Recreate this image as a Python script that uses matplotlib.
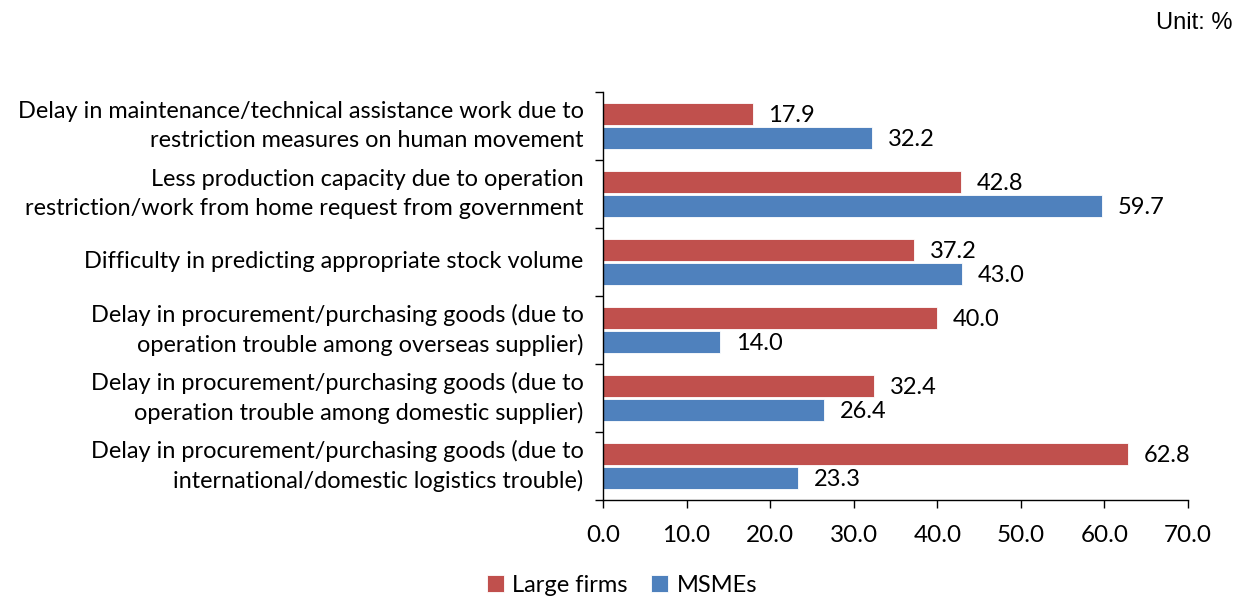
import matplotlib.pyplot as plt
import numpy as np

# survey categories, listed top to bottom
categories = [
    'Delay in maintenance/technical assistance work due to\nrestriction measures on human movement',
    'Less production capacity due to operation\nrestriction/work from home request from government',
    'Difficulty in predicting appropriate stock volume',
    'Delay in procurement/purchasing goods (due to\noperation trouble among overseas supplier)',
    'Delay in procurement/purchasing goods (due to\noperation trouble among domestic supplier)',
    'Delay in procurement/purchasing goods (due to\ninternational/domestic logistics trouble)',
]
large_firms = [17.9, 42.8, 37.2, 40.0, 32.4, 62.8]
msmes = [32.2, 59.7, 43.0, 14.0, 26.4, 23.3]
x_ticks = [0, 10, 20, 30, 40, 50, 60, 70]

red = '#C0504D'
blue = '#4F81BD'
fs = 17

plt.rcParams['font.family'] = ['Lato', 'DejaVu Sans']

fig = plt.figure(figsize=(12.44, 5.99), dpi=100)
ax = fig.add_axes([603/1244, 1 - 500/599, (1188-603)/1244, (500-92)/599])

n = len(categories)
y = np.arange(n)[::-1]  # first category at the top
h = 0.335

b1 = ax.barh(y + h/2 + 0.01, large_firms, height=h, color=red,
             edgecolor='white', linewidth=0.6, label='Large firms')
b2 = ax.barh(y - h/2 - 0.01, msmes, height=h, color=blue,
             edgecolor='white', linewidth=0.6, label='MSMEs')

for bars, vals in ((b1, large_firms), (b2, msmes)):
    for bar, v in zip(bars, vals):
        ax.text(v + 1.9, bar.get_y() + bar.get_height()/2 - 0.02, f'{v:.1f}',
                va='center', ha='left', fontsize=fs, color='black')

ax.set_xlim(0, 70)
ax.set_ylim(-0.5, n - 0.5)
ax.set_xticks(x_ticks)
ax.set_xticklabels([f'{t:.1f}' for t in x_ticks], fontsize=17.5)
ax.tick_params(axis='x', length=6, width=1, pad=12, direction='out')

# category labels sit between the boundary ticks
ax.set_yticks(np.arange(-0.5, n, 1.0))
ax.set_yticklabels([])
ax.tick_params(axis='y', length=6, width=1, direction='out')
ax.set_yticks(y, minor=True)
ax.set_yticklabels(categories, minor=True, fontsize=16.9, linespacing=1.45)
ax.tick_params(axis='y', which='minor', length=0, pad=14)
for lbl in ax.get_yticklabels(minor=True):
    lbl.set_horizontalalignment('right')
    lbl.set_verticalalignment('center')

for s in ('top', 'right'):
    ax.spines[s].set_visible(False)
for s in ('left', 'bottom'):
    ax.spines[s].set_color('#000000')
    ax.spines[s].set_linewidth(1)

fig.legend(handles=[b1, b2], loc='center', bbox_to_anchor=(0.5, 1 - 585/599),
           ncol=2, frameon=False, fontsize=fs, handlelength=0.72,
           handleheight=0.72, handletextpad=0.35, columnspacing=1.0)

fig.text(1233/1244, 1 - 23/599, 'Unit: %', ha='right', va='center',
         fontsize=17, family='Liberation Sans')

fig.savefig('out.png', dpi=100)
